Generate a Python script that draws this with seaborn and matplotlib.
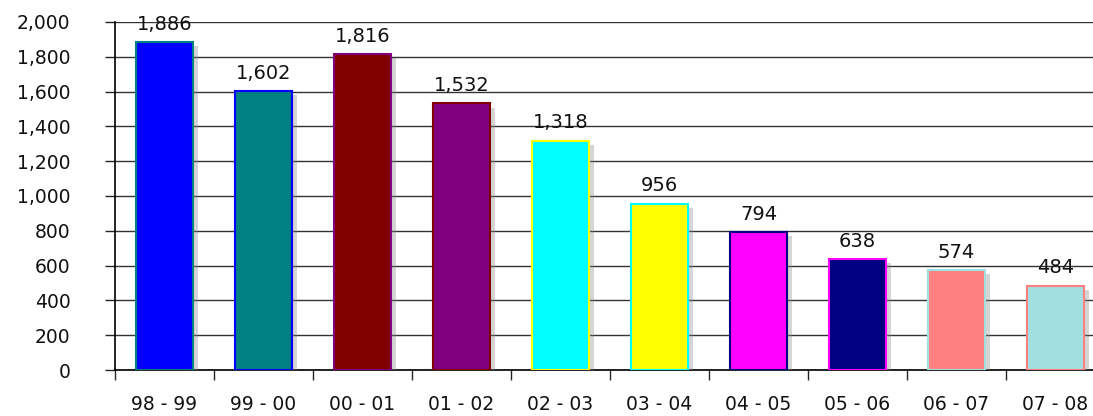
import matplotlib
matplotlib.use("Agg")
import matplotlib.pyplot as plt
import matplotlib.patheffects as pe
import seaborn as sns
import pandas as pd

categories = ["98 - 99", "99 - 00", "00 - 01", "01 - 02", "02 - 03",
              "03 - 04", "04 - 05", "05 - 06", "06 - 07", "07 - 08"]
values = [1886, 1602, 1816, 1532, 1318, 956, 794, 638, 574, 484]
fill_colors = ["#0000FF", "#008080", "#800000", "#800080", "#00FFFF",
               "#FFFF00", "#FF00FF", "#000080", "#FF8080", "#A0E0E0"]
edge_colors = ["#008080", "#0000FF", "#800080", "#800000", "#FFFF00",
               "#00FFFF", "#000080", "#FF00FF", "#A0E0E0", "#FF8080"]
yticks = list(range(0, 2001, 200))

sns.set_style("white")
plt.rcParams["font.family"] = ["DejaVu Sans"]

df = pd.DataFrame({"period": categories, "count": values})

W, H = 1093, 416
fig = plt.figure(figsize=(W / 100, H / 100), dpi=100)
left, right, bottom, top = 115, 1105, 46, 394
ax = fig.add_axes([left / W, bottom / H, (right - left) / W, (top - bottom) / H])

sns.barplot(data=df, x="period", y="count", hue="period", palette=fill_colors,
            saturation=1, legend=False, width=0.57, ax=ax, zorder=3)

for p, ec in zip(ax.patches, edge_colors):
    p.set_edgecolor(ec)
    p.set_linewidth(1.5)
    p.set_path_effects([pe.SimplePatchShadow(offset=(4, -3), shadow_rgbFace="#888888", alpha=0.35),
                        pe.Normal()])

for i, v in enumerate(values):
    ax.annotate(f"{v:,}", (i, v), xytext=(0, 6), textcoords="offset points",
                ha="center", va="bottom", fontsize=14, color="#111111", zorder=5)

ax.set_ylim(0, 2000)
ax.set_xlim(-0.5, len(categories) - 0.5)
ax.set_yticks(yticks)
ax.set_yticklabels([f"{t:,}" for t in yticks], fontsize=13.5, color="#111111")
ax.yaxis.grid(True, color="#333333", linewidth=1, zorder=0)
ax.set_axisbelow(True)

ax.set_xticks(range(len(categories)))
ax.set_xticklabels(categories, fontsize=13.5, color="#111111")
ax.tick_params(axis="x", length=0, pad=18)
ax.tick_params(axis="y", length=7, width=1, direction="out", pad=25, left=True)
# category boundary ticks
ax.set_xticks([i - 0.5 for i in range(len(categories) + 1)], minor=True)
ax.tick_params(axis="x", which="minor", length=7, width=1, direction="out", bottom=True)

ax.set_xlabel("")
ax.set_ylabel("")
for s in ["top", "right"]:
    ax.spines[s].set_visible(False)
ax.spines["left"].set_color("black")
ax.spines["bottom"].set_color("black")
ax.spines["left"].set_linewidth(1.2)
ax.spines["bottom"].set_linewidth(1.2)

fig.savefig("out.png", dpi=100)
